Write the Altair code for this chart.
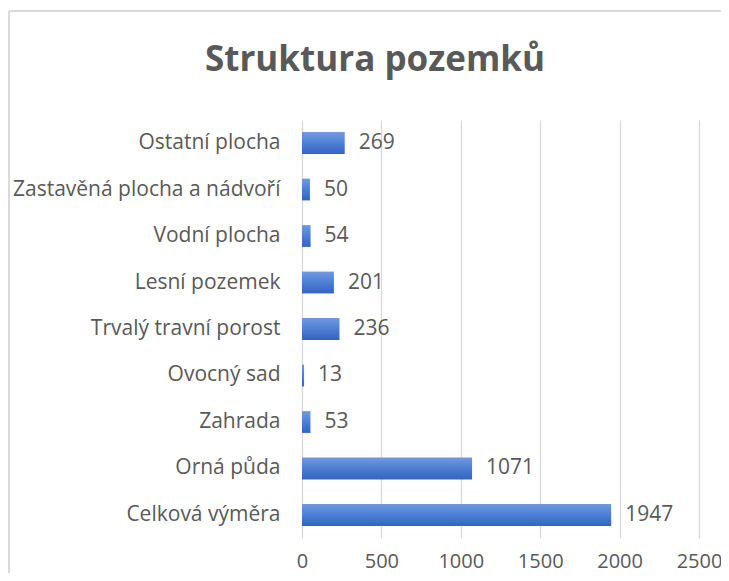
import altair as alt
import pandas as pd

title_text = "Struktura pozemků"
categories = [
    "Ostatní plocha",
    "Zastavěná plocha a nádvoří",
    "Vodní plocha",
    "Lesní pozemek",
    "Trvalý travní porost",
    "Ovocný sad",
    "Zahrada",
    "Orná půda",
    "Celková výměra",
]
values = [269, 50, 54, 201, 236, 13, 53, 1071, 1947]
x_ticks = [0, 500, 1000, 1500, 2000, 2500]

df = pd.DataFrame({"kategorie": categories, "hodnota": values})
df_title = pd.DataFrame({"t": [title_text]})

FONT = "Open Sans"
GREY = "#595959"

y_enc = alt.Y(
    "kategorie:N",
    sort=categories,
    title=None,
    scale=alt.Scale(paddingInner=0.53, paddingOuter=0.26),
    axis=alt.Axis(
        ticks=False,
        domain=False,
        grid=False,
        labelFont=FONT,
        labelFontSize=21,
        labelColor=GREY,
        labelPadding=22,
        labelLimit=400,
    ),
)
x_enc = alt.X(
    "hodnota:Q",
    title=None,
    scale=alt.Scale(domain=[0, 2500], nice=False),
    axis=alt.Axis(
        values=x_ticks,
        format="d",
        ticks=False,
        domain=False,
        grid=True,
        gridColor="#d9d9d9",
        gridWidth=1.3,
        labelFont=FONT,
        labelFontSize=20,
        labelColor=GREY,
        labelPadding=13,
        labelFlush=False,
    ),
)

bars = alt.Chart(df).mark_bar(
    color=alt.Gradient(
        gradient="linear",
        stops=[
            alt.GradientStop(color="#6f9ae0", offset=0),
            alt.GradientStop(color="#4d7fd3", offset=0.5),
            alt.GradientStop(color="#3463c2", offset=1),
        ],
        x1=0, x2=0, y1=0, y2=1,
    )
).encode(x=x_enc, y=y_enc)

labels = alt.Chart(df).mark_text(
    align="left", baseline="middle", dx=14, font=FONT, fontSize=21, color=GREY
).encode(x="hodnota:Q", y=alt.Y("kategorie:N", sort=categories), text="hodnota:Q")

title_mark = alt.Chart(df_title).mark_text(
    align="center", baseline="alphabetic", font=FONT, fontSize=35,
    fontWeight="bold", color=GREY
).encode(x=alt.value(73), y=alt.value(-49), text="t:N")

frame_left = alt.Chart(df).mark_rule(color="#d9d9d9", strokeWidth=1.5).encode(
    x=alt.value(-293), y=alt.value(-109), y2=alt.value(460)
)
frame_top = alt.Chart(df).mark_rule(color="#d9d9d9", strokeWidth=1.5).encode(
    x=alt.value(-293), x2=alt.value(440), y=alt.value(-109)
)

chart = (
    alt.layer(frame_left, frame_top, bars, labels, title_mark)
    .properties(
        width=397,
        height=418,
        padding={"left": 294, "top": 112, "right": 22, "bottom": 35},
        autosize=alt.AutoSizeParams(type="none"),
    )
    .configure_view(stroke=None)
)

chart.save("out.html", embed_options={"renderer": "svg", "actions": False})
